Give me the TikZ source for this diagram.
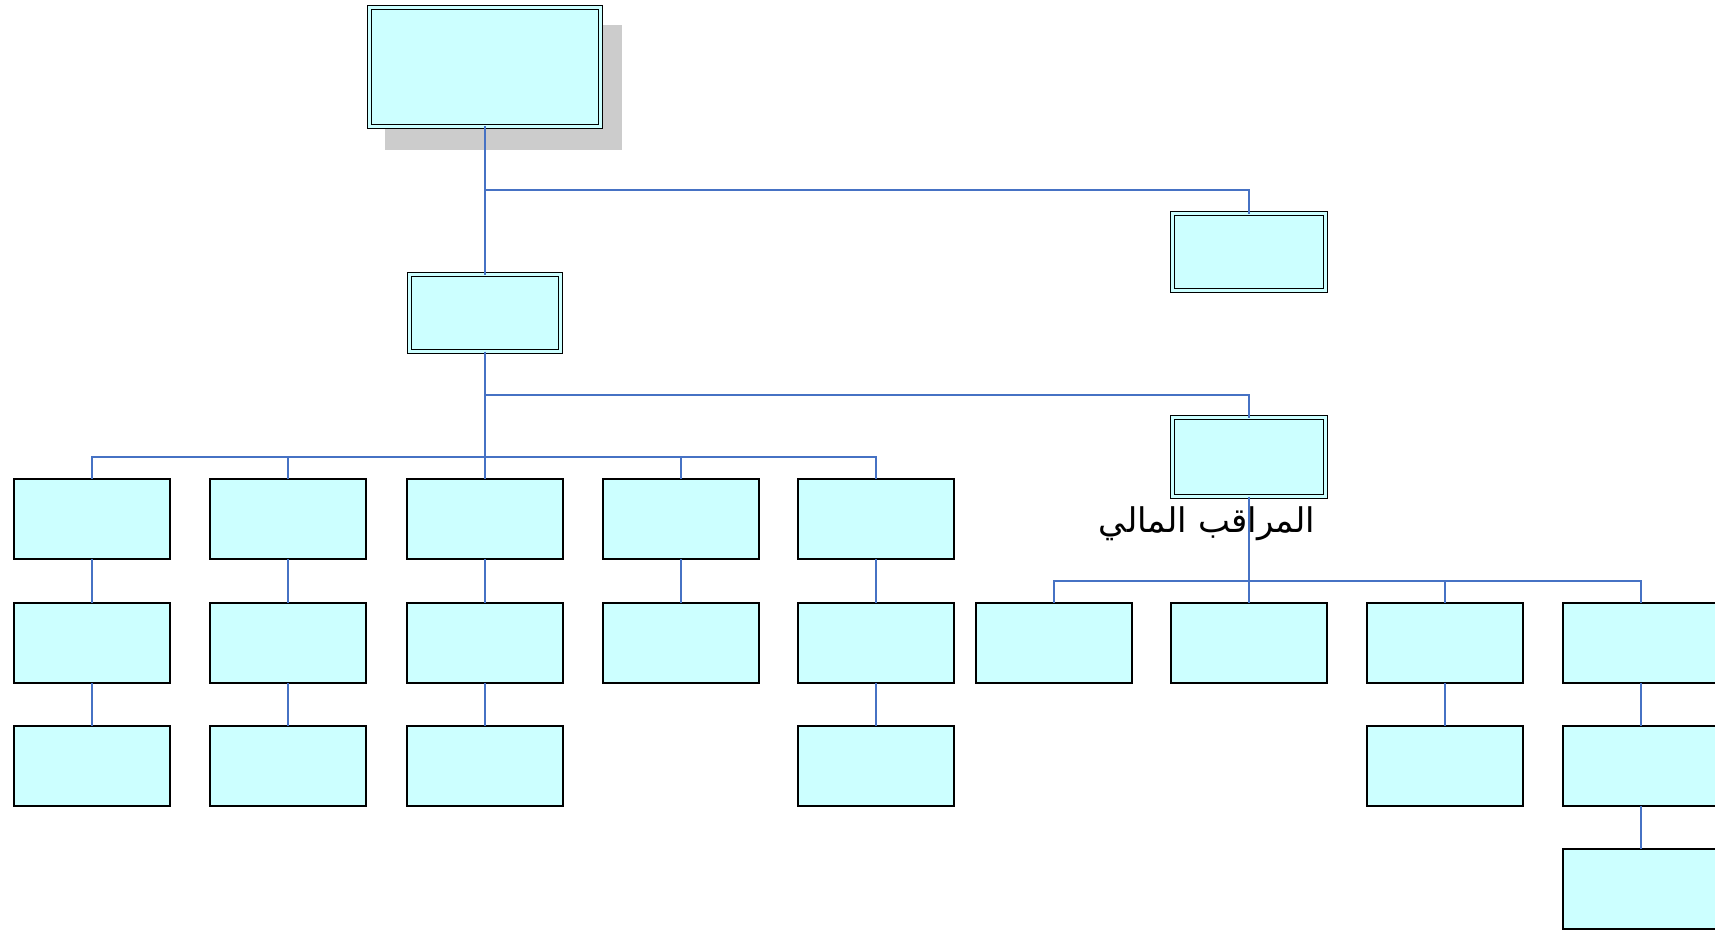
\documentclass[tikz,border=0pt]{standalone}
\usepackage{fontspec}
\TeXXeTstate=1
\newfontfamily\arabicfont[Script=Arabic]{DejaVu Sans}
\definecolor{boxfill}{RGB}{204,255,255}
\definecolor{linkblue}{RGB}{70,114,196}
\definecolor{shadowgray}{RGB}{204,204,204}
\begin{document}
\begin{tikzpicture}[x=1pt,y=1pt,
  cell/.style={draw=black, fill=boxfill, line width=1.9pt, minimum width=156pt, minimum height=80pt, inner sep=0pt, outer sep=0pt},
  dcell/.style={draw=black, fill=boxfill, line width=1.6pt, double=boxfill, double distance=2.2pt, inner sep=0pt, outer sep=0pt},
  link/.style={draw=linkblue, line width=1.6pt}]
\useasboundingbox (0,0) rectangle (1715,-931);
% shadow of top box
\fill[shadowgray] (385,-25) rectangle (622,-150);
% double-bordered boxes
\node[dcell, minimum width=231pt, minimum height=119pt] (top) at (485,-67) {};
\node[dcell, minimum width=153pt, minimum height=77pt] (rtop) at (1249,-252) {};
\node[dcell, minimum width=151pt, minimum height=77pt] (mid) at (485,-313) {};
\node[dcell, minimum width=153pt, minimum height=79pt] (rmid) at (1249,-457) {};
% grid boxes
\node[cell] (a1) at (92,-519) {};
\node[cell] (a2) at (92,-643) {};
\node[cell] (a3) at (92,-766) {};
\node[cell] (b1) at (288,-519) {};
\node[cell] (b2) at (288,-643) {};
\node[cell] (b3) at (288,-766) {};
\node[cell] (c1) at (485,-519) {};
\node[cell] (c2) at (485,-643) {};
\node[cell] (c3) at (485,-766) {};
\node[cell] (d1) at (681,-519) {};
\node[cell] (d2) at (681,-643) {};
\node[cell] (e1) at (876,-519) {};
\node[cell] (e2) at (876,-643) {};
\node[cell] (e3) at (876,-766) {};
\node[cell] (f2) at (1054,-643) {};
\node[cell] (g2) at (1249,-643) {};
\node[cell] (h2) at (1445,-643) {};
\node[cell] (h3) at (1445,-766) {};
\node[cell] (i2) at (1641,-643) {};
\node[cell] (i3) at (1641,-766) {};
\node[cell] (i4) at (1641,-889) {};
% label
\node[inner sep=0pt, font=\arabicfont\fontsize{34}{40}\selectfont] (lbl) at (1207,-524) {\beginR المراقب المالي\endR};
% junction coordinates
\coordinate (j1) at (485,-190);
\coordinate (j2) at (485,-395);
\coordinate (hl) at (0,-457);
\coordinate (hr) at (0,-581);
% connectors
\draw[link] (top.south) -- (mid.north);
\draw[link] (j1) -| (rtop.north);
\draw[link] (mid.south) -- (c1.north);
\draw[link] (j2) -| (rmid.north);
\draw[link] (a1.north) -- (a1.north |- hl) -- (e1.north |- hl) -- (e1.north);
\draw[link] (b1.north) -- (b1.north |- hl);
\draw[link] (d1.north) -- (d1.north |- hl);
\draw[link] (rmid.south) -- (g2.north);
\draw[link] (f2.north) -- (f2.north |- hr) -- (i2.north |- hr) -- (i2.north);
\draw[link] (h2.north) -- (h2.north |- hr);
\draw[link] (a1) -- (a2); \draw[link] (a2) -- (a3);
\draw[link] (b1) -- (b2); \draw[link] (b2) -- (b3);
\draw[link] (c1) -- (c2); \draw[link] (c2) -- (c3);
\draw[link] (d1) -- (d2);
\draw[link] (e1) -- (e2); \draw[link] (e2) -- (e3);
\draw[link] (h2) -- (h3);
\draw[link] (i2) -- (i3); \draw[link] (i3) -- (i4);
\end{tikzpicture}
\end{document}
